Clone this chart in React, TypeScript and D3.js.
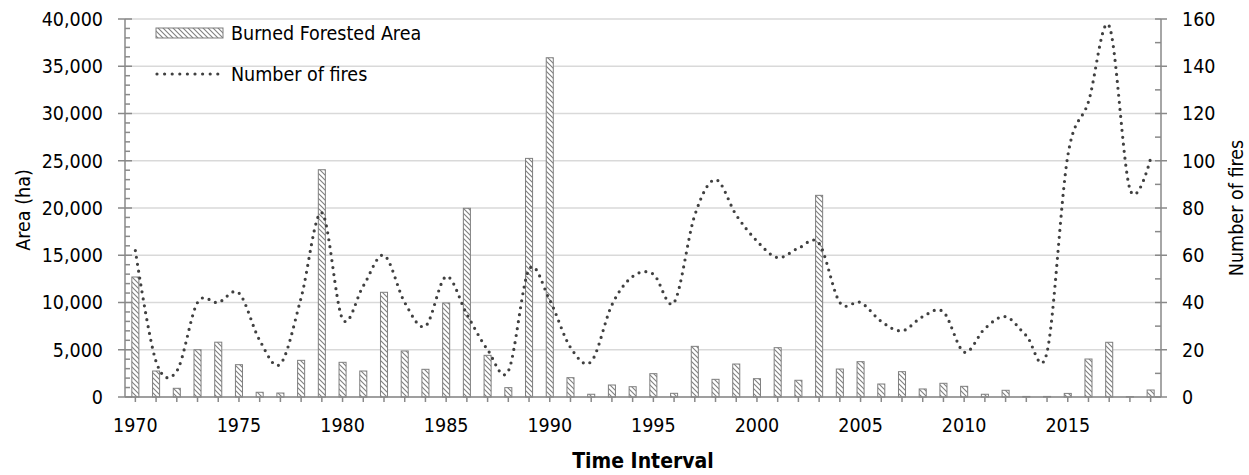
import React from "react";
import * as d3 from "d3";

const years: number[] = [
  1970, 1971, 1972, 1973, 1974, 1975, 1976, 1977, 1978, 1979,
  1980, 1981, 1982, 1983, 1984, 1985, 1986, 1987, 1988, 1989,
  1990, 1991, 1992, 1993, 1994, 1995, 1996, 1997, 1998, 1999,
  2000, 2001, 2002, 2003, 2004, 2005, 2006, 2007, 2008, 2009,
  2010, 2011, 2012, 2013, 2014, 2015, 2016, 2017, 2018, 2019,
];

const burnedArea: number[] = [
  12700, 2750, 920, 5000, 5800, 3420, 500, 420, 3880, 24050,
  3670, 2750, 11080, 4870, 2930, 9950, 19970, 4410, 990, 25250,
  35900, 2045, 290, 1270, 1090, 2470, 390, 5360, 1870, 3490,
  1940, 5220, 1770, 21340, 2960, 3740, 1375, 2680, 850, 1450,
  1130, 290, 710, 60, 60, 380, 4020, 5790, 40, 740,
];

const numberOfFires: number[] = [
  62, 15, 11, 40, 40, 44, 24, 14, 42, 78,
  33, 47, 60, 40, 30, 51, 35, 20, 11, 54,
  41, 21, 15, 39, 51, 52, 40, 77, 92, 77,
  66, 59, 63, 65, 40, 40, 32, 28, 34, 36,
  19, 29, 34, 26, 19, 102, 125, 157, 88, 101,
];

const xTickLabels: number[] = [1970, 1975, 1980, 1985, 1990, 1995, 2000, 2005, 2010, 2015];
const leftTicks: number[] = [0, 5000, 10000, 15000, 20000, 25000, 30000, 35000, 40000];
const rightTicks: number[] = [0, 20, 40, 60, 80, 100, 120, 140, 160];

const W = 1249;
const H = 475;
const L = 125;
const R = 1161;
const T = 19;
const B = 397;

const FONT = "'DejaVu Sans Condensed', 'DejaVu Sans', sans-serif";
const AXIS = "#898989";
const GRID = "#d9d9d9";

export default function App() {
  const x = d3.scaleBand<number>().domain(years).range([L, R]).padding(0);
  const yL = d3.scaleLinear().domain([0, 40000]).range([B, T]);
  const yR = d3.scaleLinear().domain([0, 160]).range([B, T]);
  const bw = x.bandwidth() * 0.34;
  const cx = (yr: number) => (x(yr) as number) + x.bandwidth() / 2;

  const line = d3
    .line<number>()
    .x((_, i) => cx(years[i]))
    .y((d) => yR(d))
    .curve(d3.curveCatmullRom.alpha(0));

  const fmt = d3.format(",");
  const leftMinor = d3.range(0, 40001, 1000).filter((v) => v % 5000 !== 0);
  const rightMinor = d3.range(10, 160, 20);

  return (
    <svg
      width={W}
      height={H}
      style={{ position: "absolute", left: 0, top: 0, background: "#fff" }}
      fontFamily={FONT}
    >
      <defs>
        <pattern id="hatch" patternUnits="userSpaceOnUse" width={5} height={5}>
          <rect width={5} height={5} fill="#fff" />
          <path d="M0,0 L5,5 M-1,4 L1,6 M4,-1 L6,1" stroke="#808080" strokeWidth={1.1} />
        </pattern>
      </defs>

      {leftTicks.map((t) => (
        <line key={"g" + t} x1={L} x2={R} y1={yL(t)} y2={yL(t)} stroke={GRID} strokeWidth={1.5} />
      ))}

      {years.map((yr, i) => (
        <rect
          key={"b" + yr}
          x={cx(yr) - bw / 2}
          y={yL(burnedArea[i])}
          width={bw}
          height={B - yL(burnedArea[i])}
          fill="url(#hatch)"
          stroke="#7f7f7f"
          strokeWidth={1}
        />
      ))}

      <path
        d={line(numberOfFires) || ""}
        fill="none"
        stroke="#404040"
        strokeWidth={3.2}
        strokeDasharray="0 7"
        strokeLinecap="round"
      />

      <line x1={L} x2={L} y1={T} y2={B} stroke={AXIS} strokeWidth={1.5} />
      <line x1={R} x2={R} y1={T} y2={B} stroke={AXIS} strokeWidth={1.5} />
      <line x1={L} x2={R} y1={B} y2={B} stroke={AXIS} strokeWidth={1.5} />

      {leftTicks.map((t) => (
        <g key={"lt" + t}>
          <line x1={L - 7} x2={L + 7} y1={yL(t)} y2={yL(t)} stroke={AXIS} strokeWidth={1.5} />
          <text x={103} y={yL(t)} dy="0.35em" textAnchor="end" fontSize={19.5} fill="#000">
            {fmt(t)}
          </text>
        </g>
      ))}
      {leftMinor.map((t) => (
        <line key={"lm" + t} x1={L} x2={L + 5} y1={yL(t)} y2={yL(t)} stroke={AXIS} strokeWidth={1.5} />
      ))}

      {rightTicks.map((t) => (
        <g key={"rt" + t}>
          <line x1={R - 6} x2={R + 6} y1={yR(t)} y2={yR(t)} stroke={AXIS} strokeWidth={1.5} />
          <text x={1182} y={yR(t)} dy="0.35em" textAnchor="start" fontSize={19.5} fill="#000">
            {t}
          </text>
        </g>
      ))}
      {rightMinor.map((t) => (
        <line key={"rm" + t} x1={R - 6} x2={R} y1={yR(t)} y2={yR(t)} stroke={AXIS} strokeWidth={1.5} />
      ))}

      {years.map((yr) => (
        <line key={"xt" + yr} x1={cx(yr)} x2={cx(yr)} y1={B} y2={B + 5} stroke={AXIS} strokeWidth={1.5} />
      ))}
      {xTickLabels.map((yr) => (
        <text key={"xl" + yr} x={cx(yr)} y={425} dy="0.35em" textAnchor="middle" fontSize={19.5} fill="#000">
          {yr}
        </text>
      ))}

      <text
        transform={`translate(23,210) rotate(-90)`}
        textAnchor="middle"
        dy="0.35em"
        fontSize={19.5}
        fill="#000"
      >
        Area (ha)
      </text>
      <text
        transform={`translate(1236,208) rotate(-90)`}
        textAnchor="middle"
        dy="0.35em"
        fontSize={19.5}
        fill="#000"
      >
        Number of fires
      </text>
      <text x={643} y={461} dy="0.35em" textAnchor="middle" fontSize={21} fontWeight="bold" fill="#000">
        Time Interval
      </text>

      <rect x={156} y={28} width={67} height={10} fill="url(#hatch)" stroke="#7f7f7f" strokeWidth={1} />
      <text x={231} y={33} dy="0.35em" fontSize={19.5} fill="#000">
        Burned Forested Area
      </text>
      <line
        x1={157}
        x2={219}
        y1={74}
        y2={74}
        stroke="#404040"
        strokeWidth={3.2}
        strokeDasharray="0 7.6"
        strokeLinecap="round"
      />
      <text x={231} y={74} dy="0.35em" fontSize={19.5} fill="#000">
        Number of fires
      </text>
    </svg>
  );
}
